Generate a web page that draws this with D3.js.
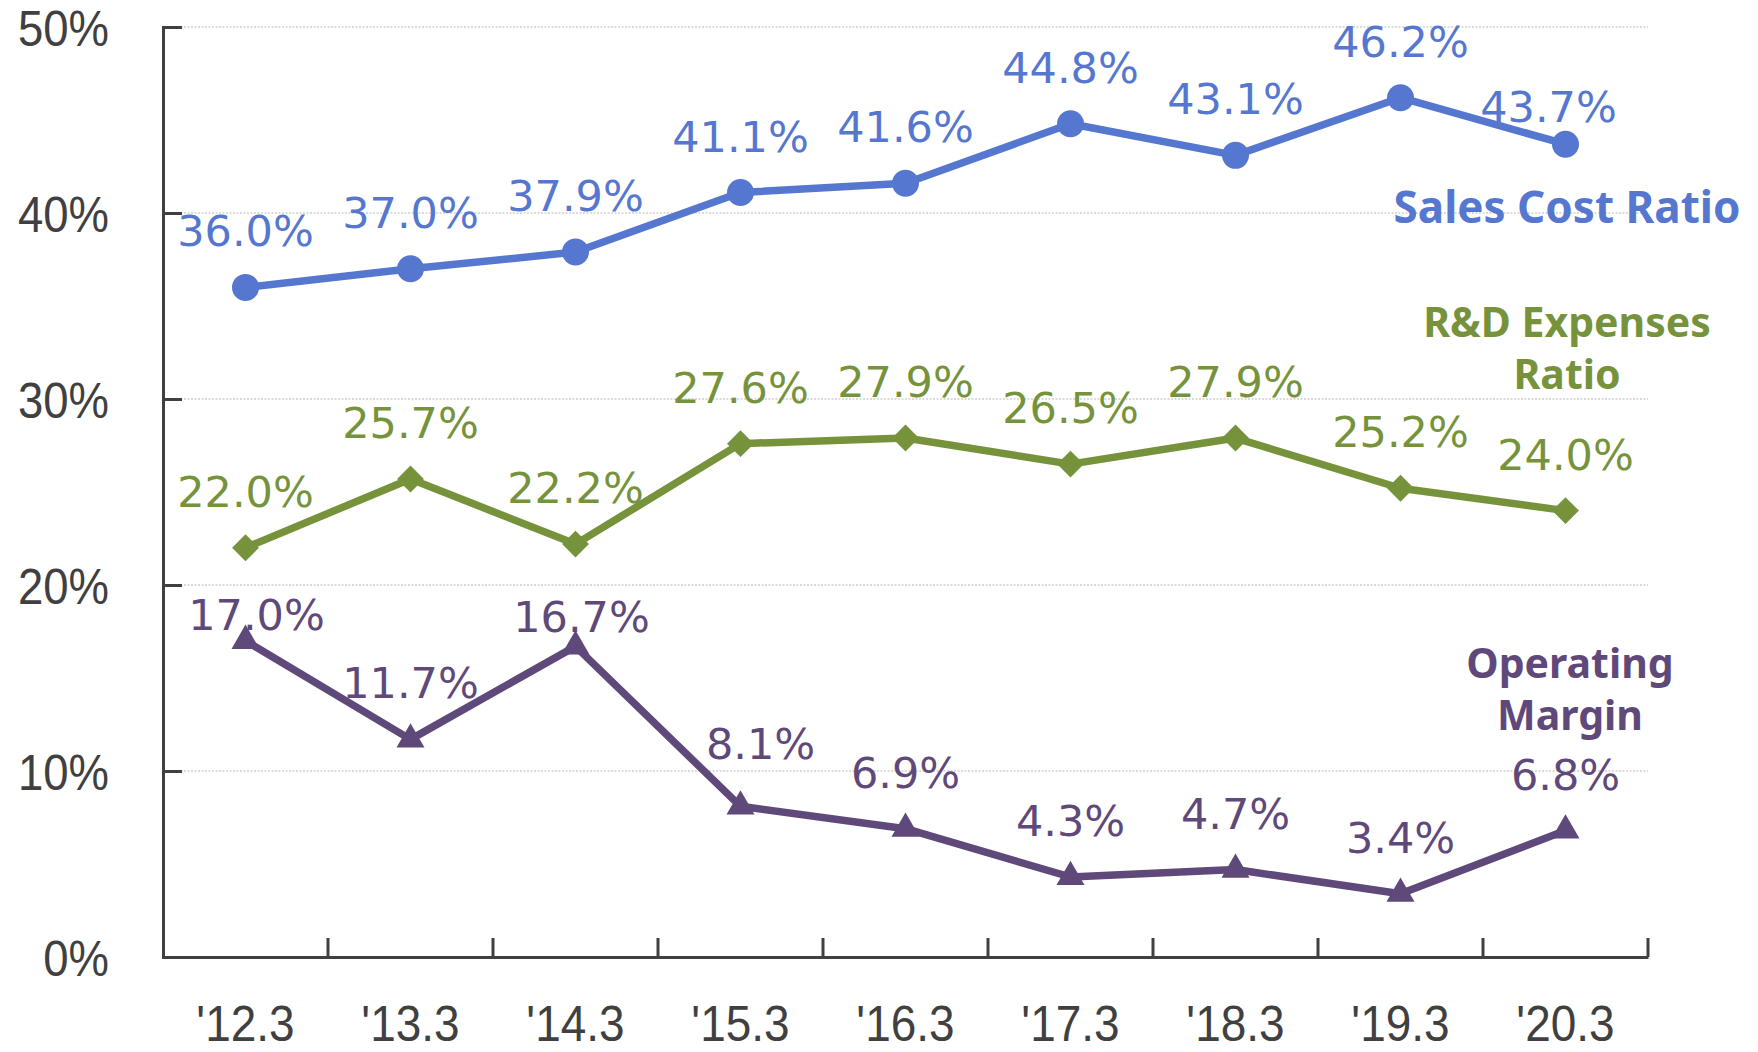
<!DOCTYPE html>
<html>
<head>
<meta charset="utf-8">
<script src="https://cdn.jsdelivr.net/npm/d3@7"></script>
<style>
  html, body { margin: 0; padding: 0; background: #ffffff; }
  svg { display: block; }
</style>
</head>
<body>
<svg id="chart" width="1758" height="1052"></svg>
<script>
// ---- data ----
const categories = ["'12.3", "'13.3", "'14.3", "'15.3", "'16.3", "'17.3", "'18.3", "'19.3", "'20.3"];
const salesCostRatio = [36.0, 37.0, 37.9, 41.1, 41.6, 44.8, 43.1, 46.2, 43.7];
const rdExpensesRatio = [22.0, 25.7, 22.2, 27.6, 27.9, 26.5, 27.9, 25.2, 24.0];
const operatingMargin = [17.0, 11.7, 16.7, 8.1, 6.9, 4.3, 4.7, 3.4, 6.8];
const yTicks = [0, 10, 20, 30, 40, 50];
const seriesNames = [["Sales Cost Ratio"], ["R&D Expenses", "Ratio"], ["Operating", "Margin"]];

(function () {
// ---- layout / style ----
const svg = d3.select("#chart");
const mLeft = 163, mRight = 1648, mTop = 27, mBottom = 957;
const axisColor = "#404040";
const colors = ["#5677cf", "#76933c", "#5f497a"];
const markers = ["circle", "diamond", "triangle"];
const tickFont = "'Liberation Sans', Arial, sans-serif";

const x = d3.scaleBand().domain(categories).range([mLeft, mRight]).padding(0);
const y = d3.scaleLinear().domain([0, 50]).range([mBottom, mTop]);
const cx = c => x(c) + x.bandwidth() / 2;

// gridlines
svg.append("g").selectAll("line")
  .data(yTicks.filter(t => t > 0))
  .join("line")
  .attr("x1", mLeft).attr("x2", mRight)
  .attr("y1", d => y(d)).attr("y2", d => y(d))
  .attr("stroke", "#b8b8b8").attr("stroke-width", 1.2)
  .attr("stroke-dasharray", "2,1.5");

// y axis
const ySx = 0.91;
const yAxis = d3.axisLeft(y).tickValues(yTicks).tickSize(-19).tickPadding(0).tickFormat(d => d + "%");
const gy = svg.append("g").attr("transform", `translate(${mLeft},0)`).call(yAxis);
gy.select(".domain").attr("stroke", axisColor).attr("stroke-width", 3);
gy.selectAll(".tick line").attr("stroke", axisColor).attr("stroke-width", 3);
gy.selectAll(".tick text")
  .attr("x", -54 / ySx).attr("dy", "0.36em")
  .attr("transform", `scale(${ySx},1)`)
  .attr("text-anchor", "end")
  .attr("fill", axisColor)
  .style("font-family", tickFont)
  .style("font-size", "50px");

// x axis
const xSx = 0.92;
const xAxis = d3.axisBottom(x).tickSize(0).tickPadding(0);
const gx = svg.append("g").attr("transform", `translate(0,${mBottom})`).call(xAxis);
gx.select(".domain").attr("stroke", axisColor).attr("stroke-width", 3);
gx.selectAll(".tick text")
  .attr("y", 84).attr("dy", 0)
  .attr("transform", `scale(${xSx},1)`)
  .attr("fill", axisColor)
  .style("font-family", tickFont)
  .style("font-size", "50px");
// inner tick marks at category boundaries
svg.append("g").selectAll("line")
  .data(categories.slice(1).concat(["__end"]))
  .join("line")
  .attr("x1", d => d === "__end" ? mRight : x(d))
  .attr("x2", d => d === "__end" ? mRight : x(d))
  .attr("y1", mBottom).attr("y2", mBottom - 19)
  .attr("stroke", axisColor).attr("stroke-width", 3);

// series
const series = [salesCostRatio, rdExpensesRatio, operatingMargin];
const line = d3.line().x((d, i) => cx(categories[i])).y(d => y(d));

// label adjustments (dx, baseline lift above point)
const labelAdjust = {
  "0-8": [-17, 22],
  "2-0": [11, 11],
  "2-2": [6, 14],
  "2-3": [20, 47]
};

series.forEach((vals, s) => {
  const g = svg.append("g");
  g.append("path").datum(vals)
    .attr("d", line)
    .attr("fill", "none")
    .attr("stroke", colors[s])
    .attr("stroke-width", 7.5)
    .attr("stroke-linejoin", "round");

  const sym = markers[s] === "circle" ? d3.symbol(d3.symbolCircle, Math.PI * 13.5 * 13.5)
            : markers[s] === "diamond" ? d3.symbol(d3.symbolSquare, 19 * 19)
            : d3.symbol(d3.symbolTriangle, 340);
  g.selectAll("path.marker").data(vals).join("path")
    .attr("class", "marker")
    .attr("d", sym)
    .attr("transform", (d, i) => `translate(${cx(categories[i])},${y(d)})` + (markers[s] === "diamond" ? " rotate(45)" : ""))
    .attr("fill", colors[s]);

  g.selectAll("text.val").data(vals).join("text")
    .attr("class", "val")
    .attr("x", (d, i) => cx(categories[i]) + (labelAdjust[s + "-" + i] ? labelAdjust[s + "-" + i][0] : 0))
    .attr("y", (d, i) => y(d) - (labelAdjust[s + "-" + i] ? labelAdjust[s + "-" + i][1] : 41))
    .attr("text-anchor", "middle")
    .attr("fill", colors[s])
    .style("font-family", "'DejaVu Sans', Verdana, sans-serif")
    .style("font-size", "43px")
    .text(d => d.toFixed(1) + "%");
});

// series name labels
const namePos = [[1567, 223], [1567, 337], [1570, 678]];
const nameSize = [44, 41, 41];
seriesNames.forEach((lines, s) => {
  const t = svg.append("text")
    .attr("text-anchor", "middle")
    .attr("fill", colors[s])
    .style("font-family", "'Noto Sans', 'Open Sans', sans-serif")
    .style("font-weight", "bold")
    .style("font-size", nameSize[s] + "px");
  lines.forEach((ln, k) => {
    t.append("tspan")
      .attr("x", namePos[s][0])
      .attr("y", namePos[s][1] + k * 52)
      .text(ln);
  });
});
})();
</script>
</body>
</html>
